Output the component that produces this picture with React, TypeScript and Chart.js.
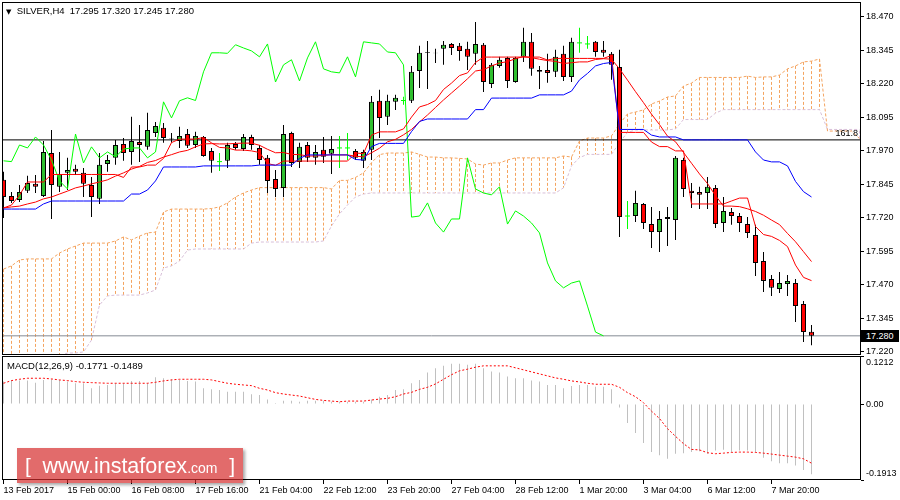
import { useEffect, useRef } from 'react';
import { Chart, registerables } from 'chart.js';

Chart.register(...registerables);

// ---------------- data ----------------
const SYMBOL = 'SILVER,H4';
const LAST_BAR_OHLC = [17.295, 17.32, 17.245, 17.28];
const MACD_NAME = 'MACD(12,26,9)';
const MACD_LAST = [-0.1771, -0.1489];
const FIB_NAME = '161.8';
const FIB_LEVEL = 18.011;
const BID_PRICE = 17.28;
const CHIKOU_SHIFT = 26;

const opens = [
  17.862, 17.802, 17.787, 17.821, 17.847, 17.802, 17.962, 17.836, 17.888, 17.903,
  17.888, 17.843, 17.791, 17.921, 17.944, 17.996, 17.966, 18.003, 17.985, 18.037,
  18.056, 18.018, 18.007, 18.033, 17.992, 18.022, 17.970, 17.930, 17.933, 17.996,
  17.977, 18.022, 17.981, 17.944, 17.865, 17.832, 18.037, 17.929, 17.992, 17.944,
  17.974, 17.959, 17.981, 17.981, 17.970, 17.933, 17.974, 18.157, 18.097, 18.153,
  18.158, 18.157, 18.268, 18.339, 18.336, 18.351, 18.369, 18.362, 18.351, 18.332,
  18.366, 18.220, 18.287, 18.317, 18.227, 18.321, 18.377, 18.272, 18.272, 18.265,
  18.332, 18.246, 18.373, 18.369, 18.377, 18.347, 18.332, 18.283, 17.727, 17.727,
  17.772, 17.697, 17.667, 17.723, 17.712, 17.936, 17.821, 17.817, 17.813, 17.832,
  17.701, 17.742, 17.727, 17.697, 17.656, 17.559, 17.492, 17.455, 17.473, 17.477,
  17.399, 17.295,
];
const highs = [
  17.892, 17.817, 17.843, 17.877, 17.880, 18.007, 18.048, 17.966, 17.944, 17.918,
  17.906, 17.873, 17.962, 17.955, 18.011, 18.018, 18.097, 18.067, 18.112, 18.078,
  18.074, 18.037, 18.060, 18.052, 18.041, 18.026, 17.981, 17.962, 18.000, 18.003,
  18.033, 18.030, 17.992, 17.955, 17.899, 18.067, 18.041, 18.000, 18.003, 17.992,
  18.022, 18.026, 18.026, 18.037, 17.977, 17.974, 18.175, 18.198, 18.179, 18.179,
  18.172, 18.287, 18.362, 18.380, 18.351, 18.380, 18.373, 18.373, 18.377, 18.451,
  18.373, 18.298, 18.321, 18.321, 18.321, 18.429, 18.410, 18.287, 18.332, 18.347,
  18.362, 18.392, 18.429, 18.399, 18.380, 18.380, 18.339, 18.347, 17.783, 17.821,
  17.776, 17.761, 17.746, 17.761, 17.951, 17.944, 17.850, 17.836, 17.873, 17.843,
  17.798, 17.757, 17.738, 17.723, 17.694, 17.593, 17.507, 17.518, 17.507, 17.492,
  17.410, 17.320,
];
const lows = [
  17.720, 17.776, 17.779, 17.813, 17.813, 17.798, 17.716, 17.817, 17.824, 17.880,
  17.798, 17.723, 17.772, 17.892, 17.918, 17.933, 17.918, 17.929, 17.974, 18.022,
  18.000, 18.000, 17.981, 17.981, 17.981, 17.948, 17.888, 17.895, 17.906, 17.974,
  17.970, 17.974, 17.918, 17.813, 17.798, 17.798, 17.910, 17.906, 17.929, 17.918,
  17.925, 17.884, 17.906, 17.936, 17.936, 17.906, 17.936, 18.018, 18.067, 18.123,
  18.142, 18.149, 18.205, 18.201, 18.298, 18.291, 18.328, 18.306, 18.272, 18.291,
  18.190, 18.205, 18.280, 18.205, 18.224, 18.302, 18.250, 18.201, 18.224, 18.246,
  18.231, 18.227, 18.336, 18.351, 18.321, 18.321, 18.235, 17.649, 17.679, 17.705,
  17.679, 17.608, 17.593, 17.615, 17.638, 17.798, 17.757, 17.753, 17.753, 17.682,
  17.667, 17.694, 17.667, 17.645, 17.503, 17.444, 17.429, 17.440, 17.429, 17.332,
  17.257, 17.245,
];
const closes = [
  17.798, 17.783, 17.817, 17.850, 17.836, 17.966, 17.843, 17.884, 17.899, 17.892,
  17.847, 17.798, 17.918, 17.936, 17.992, 17.962, 18.007, 17.992, 18.048, 18.063,
  18.018, 18.016, 18.026, 17.989, 18.026, 17.951, 17.933, 17.930, 17.992, 17.981,
  18.022, 17.992, 17.936, 17.858, 17.828, 18.033, 17.925, 17.985, 17.944, 17.966,
  17.948, 17.977, 17.981, 17.981, 17.944, 17.966, 18.153, 18.093, 18.157, 18.168,
  18.158, 18.265, 18.336, 18.336, 18.334, 18.366, 18.354, 18.343, 18.321, 18.369,
  18.227, 18.291, 18.310, 18.231, 18.317, 18.377, 18.276, 18.265, 18.261, 18.321,
  18.246, 18.377, 18.373, 18.369, 18.339, 18.336, 18.291, 17.723, 17.727, 17.776,
  17.701, 17.667, 17.716, 17.716, 17.944, 17.828, 17.813, 17.806, 17.836, 17.697,
  17.746, 17.727, 17.701, 17.664, 17.552, 17.485, 17.459, 17.477, 17.485, 17.391,
  17.294, 17.280,
];
const tenkan = [
  17.757, 17.768, 17.805, 17.854, 17.854, 17.854, 17.882, 17.882, 17.882, 17.882,
  17.882, 17.882, 17.882, 17.882, 17.882, 17.871, 17.910, 17.910, 17.917, 17.917,
  17.942, 18.001, 18.014, 18.014, 18.014, 18.020, 18.000, 17.983, 17.981, 17.973,
  17.973, 17.970, 17.964, 17.923, 17.916, 17.932, 17.932, 17.932, 17.932, 17.932,
  17.932, 17.932, 17.932, 17.932, 17.962, 17.960, 18.029, 18.041, 18.041, 18.041,
  18.052, 18.096, 18.134, 18.143, 18.158, 18.199, 18.223, 18.251, 18.261, 18.300,
  18.320, 18.320, 18.320, 18.320, 18.320, 18.320, 18.320, 18.320, 18.309, 18.315,
  18.315, 18.315, 18.315, 18.315, 18.315, 18.315, 18.326, 18.039, 18.039, 18.039,
  18.039, 18.003, 17.986, 17.986, 17.970, 17.970, 17.772, 17.772, 17.772, 17.772,
  17.772, 17.783, 17.794, 17.794, 17.688, 17.658, 17.651, 17.636, 17.613, 17.544,
  17.498, 17.486,
];
const kijun = [
  17.753, 17.753, 17.753, 17.753, 17.753, 17.772, 17.783, 17.783, 17.783, 17.783,
  17.783, 17.783, 17.783, 17.783, 17.783, 17.783, 17.809, 17.809, 17.824, 17.858,
  17.910, 17.910, 17.910, 17.910, 17.910, 17.914, 17.914, 17.914, 17.914, 17.914,
  17.914, 17.914, 17.917, 17.917, 17.917, 17.917, 17.917, 17.942, 17.955, 17.955,
  17.955, 17.955, 17.955, 17.955, 17.938, 17.936, 17.986, 17.998, 17.998, 17.998,
  17.998, 18.042, 18.080, 18.089, 18.089, 18.089, 18.089, 18.089, 18.089, 18.124,
  18.124, 18.167, 18.167, 18.167, 18.167, 18.167, 18.167, 18.179, 18.179, 18.179,
  18.179, 18.193, 18.235, 18.259, 18.287, 18.296, 18.300, 18.050, 18.050, 18.050,
  18.050, 18.029, 18.022, 18.022, 18.022, 18.011, 18.011, 18.011, 18.011, 18.011,
  18.011, 18.011, 18.011, 18.011, 17.966, 17.936, 17.929, 17.929, 17.914, 17.856,
  17.818, 17.798,
];
const movingAvg = [
  17.757, 17.761, 17.764, 17.772, 17.779, 17.791, 17.798, 17.809, 17.820, 17.832,
  17.839, 17.847, 17.854, 17.862, 17.876, 17.888, 17.902, 17.912, 17.927, 17.934,
  17.947, 17.956, 17.966, 17.972, 17.985, 17.996, 17.997, 17.996, 17.996, 17.998,
  17.999, 17.999, 17.991, 17.976, 17.963, 17.964, 17.957, 17.956, 17.951, 17.951,
  17.953, 17.956, 17.955, 17.955, 17.950, 17.948, 17.963, 17.980, 18.004, 18.013,
  18.030, 18.050, 18.078, 18.104, 18.132, 18.160, 18.186, 18.212, 18.239, 18.268,
  18.273, 18.287, 18.298, 18.303, 18.314, 18.322, 18.318, 18.312, 18.307, 18.304,
  18.296, 18.299, 18.302, 18.302, 18.311, 18.314, 18.312, 18.276, 18.234, 18.191,
  18.150, 18.107, 18.068, 18.025, 18.004, 17.964, 17.924, 17.884, 17.848, 17.803,
  17.764, 17.764, 17.762, 17.754, 17.744, 17.730, 17.712, 17.695, 17.662, 17.631,
  17.594, 17.557,
];
const spanA = [
  17.529, 17.541, 17.563, 17.567, 17.567, 17.567, 17.567, 17.589, 17.604, 17.615,
  17.626, 17.626, 17.626, 17.626, 17.634, 17.649, 17.638, 17.652, 17.664, 17.667,
  17.742, 17.753, 17.753, 17.753, 17.753, 17.753, 17.755, 17.761, 17.776, 17.798,
  17.813, 17.824, 17.833, 17.833, 17.833, 17.833, 17.833, 17.833, 17.833, 17.833,
  17.833, 17.828, 17.860, 17.860, 17.871, 17.888, 17.926, 17.956, 17.962, 17.962,
  17.962, 17.966, 17.957, 17.947, 17.947, 17.944, 17.944, 17.942, 17.940, 17.921,
  17.917, 17.925, 17.925, 17.936, 17.944, 17.944, 17.944, 17.944, 17.944, 17.944,
  17.951, 17.947, 18.007, 18.018, 18.018, 18.018, 18.026, 18.070, 18.108, 18.115,
  18.123, 18.145, 18.156, 18.171, 18.175, 18.212, 18.223, 18.244, 18.244, 18.244,
  18.244, 18.244, 18.244, 18.249, 18.244, 18.246, 18.246, 18.253, 18.276, 18.287,
  18.302, 18.305, 18.313, 18.044, 18.044, 18.044, 18.044, 18.016,
];
const spanB = [
  17.153, 17.153, 17.153, 17.153, 17.153, 17.153, 17.153, 17.205, 17.216, 17.216,
  17.220, 17.264, 17.395, 17.429, 17.432, 17.432, 17.432, 17.432, 17.440, 17.451,
  17.533, 17.541, 17.559, 17.600, 17.604, 17.604, 17.604, 17.604, 17.604, 17.604,
  17.604, 17.626, 17.630, 17.630, 17.630, 17.630, 17.630, 17.630, 17.630, 17.630,
  17.634, 17.690, 17.735, 17.768, 17.798, 17.809, 17.813, 17.813, 17.813, 17.813,
  17.813, 17.813, 17.813, 17.813, 17.813, 17.813, 17.813, 17.813, 17.813, 17.813,
  17.813, 17.813, 17.813, 17.813, 17.813, 17.813, 17.813, 17.813, 17.813, 17.813,
  17.832, 17.914, 17.945, 17.957, 17.957, 17.957, 17.957, 18.001, 18.039, 18.048,
  18.048, 18.048, 18.048, 18.048, 18.052, 18.087, 18.087, 18.087, 18.087, 18.111,
  18.124, 18.124, 18.124, 18.124, 18.124, 18.124, 18.124, 18.124, 18.124, 18.124,
  18.124, 18.124, 18.124, 18.050, 18.050, 18.050, 18.050, 18.050,
];
const macdMain = [
  0.0567, 0.0609, 0.0592, 0.0592, 0.0541, 0.0609, 0.0626, 0.0609, 0.0567, 0.0525,
  0.0525, 0.0398, 0.0465, 0.0482, 0.0525, 0.0525, 0.0584, 0.0584, 0.0525, 0.0677,
  0.0651, 0.0626, 0.0609, 0.0584, 0.0567, 0.0398, 0.0372, 0.0355, 0.0313, 0.0313,
  0.0313, 0.0245, 0.0228, 0.0118, 0.0025, 0.0085, 0.0085, 0.0059, 0.0085, 0.0085,
  0.0085, 0.0059, 0.0059, 0.0059, 0.0059, 0.0059, 0.0118, 0.0186, 0.0228, 0.0355,
  0.0372, 0.0525, 0.0609, 0.0795, 0.0905, 0.0964, 0.1015, 0.1015, 0.0990, 0.1015,
  0.0905, 0.0821, 0.0795, 0.0694, 0.0651, 0.0651, 0.0592, 0.0567, 0.0482, 0.0482,
  0.0398, 0.0457, 0.0482, 0.0482, 0.0440, 0.0440, 0.0372, -0.0084, -0.0475, -0.0728,
  -0.0982, -0.1210, -0.1290, -0.1380, -0.1250, -0.1240, -0.1210, -0.1190, -0.1250, -0.1170,
  -0.1150, -0.1210, -0.1170, -0.1170, -0.1210, -0.1350, -0.1440, -0.1490, -0.1490, -0.1550,
  -0.1660, -0.1771,
];
const macdSignal = [
  0.0525, 0.0592, 0.0626, 0.0651, 0.0651, 0.0651, 0.0634, 0.0609, 0.0592, 0.0567,
  0.0550, 0.0541, 0.0533, 0.0525, 0.0525, 0.0525, 0.0525, 0.0525, 0.0525, 0.0550,
  0.0584, 0.0609, 0.0626, 0.0626, 0.0626, 0.0626, 0.0609, 0.0567, 0.0525, 0.0500,
  0.0482, 0.0465, 0.0398, 0.0355, 0.0288, 0.0254, 0.0228, 0.0203, 0.0160, 0.0118,
  0.0093, 0.0076, 0.0059, 0.0076, 0.0076, 0.0076, 0.0102, 0.0127, 0.0144, 0.0186,
  0.0254, 0.0296, 0.0372, 0.0423, 0.0508, 0.0626, 0.0740, 0.0838, 0.0880, 0.0930,
  0.0964, 0.0964, 0.0964, 0.0964, 0.0914, 0.0863, 0.0812, 0.0761, 0.0711, 0.0660,
  0.0626, 0.0584, 0.0558, 0.0525, 0.0500, 0.0500, 0.0500, 0.0423, 0.0288, 0.0186,
  0.0034, -0.0178, -0.0364, -0.0618, -0.0812, -0.0998, -0.1142, -0.1155, -0.1226, -0.1251,
  -0.1236, -0.1218, -0.1210, -0.1210, -0.1218, -0.1236, -0.1260, -0.1286, -0.1311, -0.1337,
  -0.1379, -0.1489,
];
const priceTicks = [18.47, 18.345, 18.22, 18.095, 17.97, 17.845, 17.72, 17.595, 17.47, 17.345, 17.22];
const macdTicks = [0.1212, 0, -0.1913];
const macdTickLabels = ['0.1212', '0.00', '-0.1913'];
const timeTickBars = [0, 8, 16, 24, 32, 40, 48, 56, 64, 72, 80, 88, 96];
const timeLabels = [
  '13 Feb 2017', '15 Feb 00:00', '16 Feb 08:00', '17 Feb 16:00', '21 Feb 04:00',
  '22 Feb 12:00', '23 Feb 20:00', '27 Feb 04:00', '28 Feb 12:00', '1 Mar 20:00',
  '3 Mar 04:00', '6 Mar 12:00', '7 Mar 20:00',
];

// ---------------- view settings ----------------
const X_MIN = -0.1875;
const X_MAX = 107.1875;
const PRICE_MIN = 17.2085;
const PRICE_MAX = 18.5255;
const MACD_MIN = -0.1913;
const MACD_MAX = 0.1212;

const FONT = '"Liberation Sans", Arial, sans-serif';
const RED = '#ff0000';
const GREEN = '#2fbf2f';
const LIME = '#00ff00';
const BLUE = '#0000ff';
const SANDY = '#f4a460';
const THISTLE = '#d8bfd8';
const SILVER = '#c0c0c0';

const framePlugin = {
  id: 'paneFrame',
  afterDraw(chart: any) {
    const { ctx, chartArea: a } = chart;
    ctx.save();
    ctx.strokeStyle = '#000';
    ctx.lineWidth = 1;
    ctx.strokeRect(a.left + 0.5, a.top + 0.5, a.right - a.left - 1, a.bottom - a.top - 1);
    ctx.restore();
  },
};

const xy = (arr: number[]) => arr.map((v, i) => ({ x: i, y: v }));

// vertical cloud strokes: one segment per bar, from span A to span B, broken by gaps
const kumoSegments = (up: boolean) =>
  spanA.flatMap((a, j) =>
    (a >= spanB[j]) === up
      ? [
          { x: j, y: a },
          { x: j, y: spanB[j] },
          { x: j, y: null },
        ]
      : [],
  );

function xScale(display: boolean): any {
  return {
    type: 'linear',
    display,
    min: X_MIN,
    max: X_MAX,
    offset: false,
    bounds: 'data',
    afterBuildTicks: (s: any) => {
      s.ticks = timeTickBars.map((v) => ({ value: v }));
    },
    afterFit: (s: any) => {
      if (display) s.height = 20;
      s.paddingLeft = 0;
      s.paddingRight = 0;
    },
    ticks: {
      autoSkip: false,
      maxRotation: 0,
      minRotation: 0,
      align: 'start',
      padding: 1,
      color: '#000',
      font: { family: FONT, size: 9 },
      callback: (v: number) => {
        const k = timeTickBars.indexOf(v);
        return k >= 0 ? timeLabels[k] : '';
      },
    },
    grid: { drawOnChartArea: false, drawTicks: true, tickLength: 4, color: '#000', offset: false },
    border: { display: false },
  };
}

const commonOptions: any = {
  responsive: false,
  maintainAspectRatio: false,
  devicePixelRatio: 1,
  animation: false,
  events: [],
  plugins: { legend: { display: false }, tooltip: { enabled: false }, title: { display: false } },
};

export default function App() {
  const mainRef = useRef<HTMLCanvasElement>(null);
  const macdRef = useRef<HTMLCanvasElement>(null);

  useEffect(() => {
    const mainCanvas = mainRef.current!;
    const macdCanvas = macdRef.current!;

    const isDoji = (i: number) => opens[i] === closes[i];
    const bodyIdx = opens.map((_, i) => i).filter((i) => !isDoji(i));
    const dojiIdx = opens.map((_, i) => i).filter((i) => isDoji(i));

    const main = new Chart(mainCanvas, {
      type: 'bar',
      data: {
        datasets: [
          {
            type: 'line',
            order: 21,
            data: kumoSegments(true),
            borderColor: SANDY,
            borderWidth: 1,
            borderDash: [3, 2],
            pointRadius: 0,
            spanGaps: false,
            tension: 0,
          } as any,
          {
            type: 'line',
            order: 20,
            data: kumoSegments(false),
            borderColor: THISTLE,
            borderWidth: 1,
            borderDash: [3, 2],
            pointRadius: 0,
            spanGaps: false,
            tension: 0,
          } as any,
          {
            type: 'line',
            order: 19,
            data: xy(spanA),
            borderColor: SANDY,
            borderWidth: 1,
            borderDash: [3, 2],
            pointRadius: 0,
            tension: 0,
          },
          {
            type: 'line',
            order: 19,
            data: xy(spanB),
            borderColor: THISTLE,
            borderWidth: 1,
            borderDash: [3, 2],
            pointRadius: 0,
            tension: 0,
          },
          {
            type: 'line',
            order: 18,
            data: [
              { x: X_MIN, y: FIB_LEVEL },
              { x: X_MAX, y: FIB_LEVEL },
            ],
            borderColor: '#000',
            borderWidth: 1,
            pointRadius: 0,
          },
          {
            type: 'line',
            order: 18,
            data: [
              { x: X_MIN, y: BID_PRICE },
              { x: X_MAX, y: BID_PRICE },
            ],
            borderColor: '#858b94',
            borderWidth: 1,
            pointRadius: 0,
          },
          {
            type: 'bar',
            order: 16,
            data: lows.map((l, i) => ({ x: i, y: [l, highs[i]] })),
            backgroundColor: opens.map((_, i) => (isDoji(i) ? LIME : '#000')),
            barThickness: 1,
            grouped: false,
            borderWidth: 0,
            inflateAmount: 0,
          } as any,
          {
            type: 'bar',
            order: 15,
            data: bodyIdx.map((i) => ({ x: i, y: [opens[i], closes[i]] })),
            backgroundColor: bodyIdx.map((i) => (closes[i] > opens[i] ? GREEN : RED)),
            borderColor: '#000',
            borderWidth: 1,
            borderSkipped: false,
            barThickness: 5,
            grouped: false,
            inflateAmount: 0,
          } as any,
          {
            type: 'line',
            order: 14,
            data: dojiIdx.map((i) => ({ x: i, y: opens[i] })),
            showLine: false,
            pointStyle: 'line',
            pointRadius: 2.5,
            pointBorderWidth: 1,
            pointBorderColor: LIME,
            borderColor: LIME,
          } as any,
          {
            type: 'line',
            order: 5,
            data: xy(closes.slice(CHIKOU_SHIFT)),
            borderColor: LIME,
            borderWidth: 1,
            pointRadius: 0,
            tension: 0,
          },
          {
            type: 'line',
            order: 4,
            data: xy(movingAvg),
            borderColor: RED,
            borderWidth: 1,
            pointRadius: 0,
            tension: 0,
          },
          {
            type: 'line',
            order: 3,
            data: xy(tenkan),
            borderColor: RED,
            borderWidth: 1,
            pointRadius: 0,
            tension: 0,
          },
          {
            type: 'line',
            order: 2,
            data: xy(kijun),
            borderColor: BLUE,
            borderWidth: 1,
            pointRadius: 0,
            tension: 0,
          },
        ] as any,
      },
      options: {
        ...commonOptions,
        layout: { padding: { left: 2, top: 2, right: 0, bottom: 7 }, autoPadding: false },
        scales: {
          x: xScale(false),
          y: {
            type: 'linear',
            position: 'right',
            min: PRICE_MIN,
            max: PRICE_MAX,
            bounds: 'data',
            beginAtZero: false,
            afterBuildTicks: (s: any) => {
              s.ticks = priceTicks.map((v) => ({ value: v }));
            },
            afterFit: (s: any) => {
              s.width = 39;
              s.paddingTop = 0;
              s.paddingBottom = 0;
            },
            ticks: {
              autoSkip: false,
              padding: 2,
              color: '#000',
              font: { family: FONT, size: 9 },
              callback: (v: any) => Number(v).toFixed(3),
            },
            grid: { drawOnChartArea: false, drawTicks: true, tickLength: 3, color: '#000' },
            border: { display: false },
          } as any,
        },
      },
      plugins: [framePlugin],
    });

    const macd = new Chart(macdCanvas, {
      type: 'bar',
      data: {
        datasets: [
          {
            type: 'bar',
            order: 2,
            data: xy(macdMain),
            backgroundColor: SILVER,
            barThickness: 1,
            grouped: false,
            borderWidth: 0,
            inflateAmount: 0,
          } as any,
          {
            type: 'line',
            order: 1,
            data: xy(macdSignal),
            borderColor: RED,
            borderWidth: 1,
            borderDash: [2, 2],
            pointRadius: 0,
            tension: 0,
          },
        ] as any,
      },
      options: {
        ...commonOptions,
        layout: { padding: { left: 2, top: 0, right: 0, bottom: 0 }, autoPadding: false },
        scales: {
          x: xScale(true),
          y: {
            type: 'linear',
            position: 'right',
            min: MACD_MIN,
            max: MACD_MAX,
            bounds: 'data',
            beginAtZero: false,
            afterBuildTicks: (s: any) => {
              s.ticks = macdTicks.map((v) => ({ value: v }));
            },
            afterFit: (s: any) => {
              s.width = 39;
              s.paddingTop = 0;
              s.paddingBottom = 0;
            },
            ticks: {
              autoSkip: false,
              padding: 2,
              color: '#000',
              font: { family: FONT, size: 9, lineHeight: 1.4 },
              callback: (_v: any, idx: number) => {
                const t = macdTickLabels[idx];
                if (idx === 0) return ['', t];
                if (idx === macdTickLabels.length - 1) return [t, ''];
                return t;
              },
            },
            grid: { drawOnChartArea: false, drawTicks: true, tickLength: 3, color: '#000' },
            border: { display: false },
          } as any,
        },
      },
      plugins: [framePlugin],
    });

    return () => {
      main.destroy();
      macd.destroy();
    };
  }, []);

  const txt = { position: 'absolute' as const, fontFamily: FONT, color: '#000', whiteSpace: 'pre' as const };

  return (
    <div
      style={{
        position: 'fixed',
        left: 0,
        top: 0,
        width: 900,
        height: 500,
        background: '#fff',
        overflow: 'hidden',
      }}
    >
      <canvas
        ref={mainRef}
        width={900}
        height={362}
        style={{ position: 'absolute', left: 0, top: 0, width: 900, height: 362 }}
      />
      <canvas
        ref={macdRef}
        width={900}
        height={144}
        style={{ position: 'absolute', left: 0, top: 356, width: 900, height: 144 }}
      />
      <div style={{ ...txt, left: 6, top: 4, fontSize: 9.5, lineHeight: '13px' }}>
        <span style={{ fontSize: 7, fontFamily: '"DejaVu Sans", sans-serif' }}>▼</span>
        {'  ' + SYMBOL + '  ' + LAST_BAR_OHLC.map((v) => v.toFixed(3)).join(' ')}
      </div>
      <div style={{ ...txt, left: 7, top: 359, fontSize: 9.5, lineHeight: '13px' }}>
        {MACD_NAME + ' ' + MACD_LAST.map((v) => v.toFixed(4)).join(' ')}
      </div>
      <div style={{ ...txt, left: 830, top: 127, width: 28, textAlign: 'right', fontSize: 9, lineHeight: '13px' }}>
        {FIB_NAME}
      </div>
      <div
        style={{
          ...txt,
          left: 861,
          top: 330,
          width: 38,
          height: 12,
          background: '#000',
          color: '#fff',
          fontSize: 9,
          lineHeight: '12px',
          paddingLeft: 5,
          boxSizing: 'border-box',
        }}
      >
        {BID_PRICE.toFixed(3)}
      </div>
      <div
        style={{
          position: 'absolute',
          left: 17,
          top: 448,
          width: 226,
          height: 35,
          background: 'rgba(214, 44, 44, 0.7)',
          boxShadow: '2px 2px 3px rgba(0,0,0,0.35)',
          display: 'flex',
          alignItems: 'baseline',
          justifyContent: 'center',
          color: '#fff',
          fontFamily: FONT,
          lineHeight: '35px',
          whiteSpace: 'pre',
        }}
      >
        <span style={{ fontSize: 21 }}>{'[  '}</span>
        <span style={{ fontSize: 21.5 }}>www.instaforex</span>
        <span style={{ fontSize: 14 }}>.com</span>
        <span style={{ fontSize: 21 }}>{'  ]'}</span>
      </div>
    </div>
  );
}
